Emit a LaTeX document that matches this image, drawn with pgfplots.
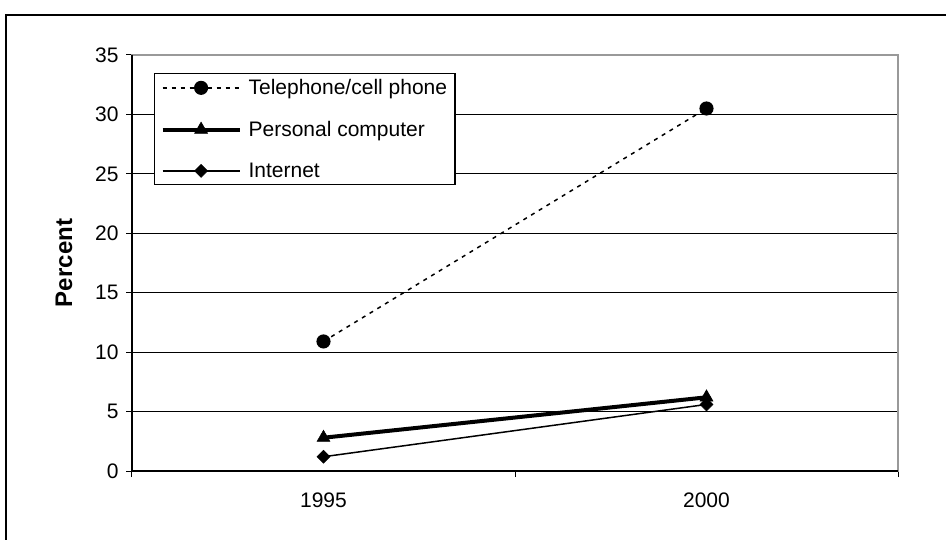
\documentclass[border=0pt]{standalone}
\usepackage{fontspec}
\setmainfont{Liberation Sans}
\usepackage{pgfplots}
\pgfplotsset{compat=1.18}
\begin{document}
\begin{tikzpicture}[x=1pt,y=1pt]
\useasboundingbox (0,0) rectangle (946,539);
\clip (0,0) rectangle (946,539);
\draw[line width=2pt] (6,524) rectangle (990,-40);
\begin{axis}[
  at={(132pt,68pt)}, anchor=south west,
  scale only axis, width=766pt, height=416pt,
  clip=false,
  xmin=-0.5, xmax=1.5, ymin=0, ymax=35,
  xtick={-0.5,0.5,1.5}, xticklabels={},
  extra x ticks={0,1}, extra x tick labels={1995,2000},
  extra x tick style={major tick length=0pt, xticklabel style={yshift=-18pt}},
  ytick={0,5,...,35},
  yticklabel style={xshift=-4pt},
  ymajorgrids, major grid style={black, line width=0.9pt},
  axis line style={gray!80, line width=1.6pt},
  tick style={black, line width=1pt},
  tick align=outside, tick pos=left,
  major tick length=6pt,
  /pgf/number format/assume math mode=true,
  tick label style={font=\fontsize{21}{25}\selectfont},
  ylabel={Percent},
  ylabel style={font=\bfseries\fontsize{24}{28}\selectfont, at={(axis description cs:-0.0888,0.5)}, anchor=center},
  legend cell align=left,
  legend style={at={(axis description cs:0.0287,0.957)}, anchor=north west,
    draw=black, line width=1.2pt, font=\fontsize{21}{25}\selectfont,
    inner xsep=6pt, inner ysep=4pt, row sep=21pt},
  legend image code/.code={\draw[mark repeat=2,mark phase=2,#1] plot coordinates {(0pt,0pt) (38.5pt,0pt) (77pt,0pt)}; \path (82pt,0pt);},
]
\addplot[black, line width=1.5pt, dash pattern=on 4pt off 5pt, mark=*, mark size=6.3pt, mark options={solid}] coordinates {(0,10.9) (1,30.5)};
\addlegendentry{Telephone/cell phone}
\addplot[black, line width=4pt, mark=triangle*, mark size=7.5pt, mark options={solid, line width=0.5pt}] coordinates {(0,2.8) (1,6.2)};
\addlegendentry{Personal computer}
\addplot[black, line width=1.5pt, mark=square*, mark size=4.6pt, mark options={rotate=45, solid, line width=0.5pt}] coordinates {(0,1.2) (1,5.6)};
\addlegendentry{Internet}
\draw[black, line width=1.6pt] (rel axis cs:0,1) -- (rel axis cs:0,0) -- (rel axis cs:1,0);
\end{axis}
\end{tikzpicture}
\end{document}
